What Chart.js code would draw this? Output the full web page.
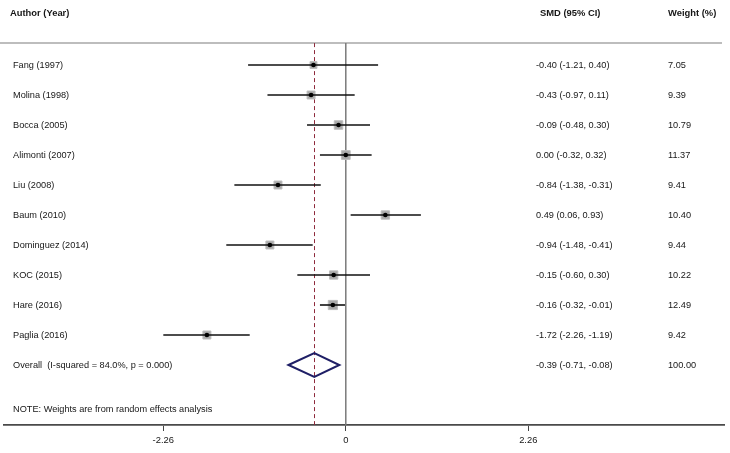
<!DOCTYPE html>
<html>
<head>
<meta charset="utf-8">
<script src="https://cdn.jsdelivr.net/npm/chart.js@4.4.1/dist/chart.umd.min.js"></script>
<style>
  html, body { margin: 0; padding: 0; background: #ffffff; }
  #wrap { width: 730px; height: 453px; }
</style>
</head>
<body>
<div id="wrap"><canvas id="c" width="730" height="453"></canvas></div>
<script>
// ---- data ----
const studies = ['Fang (1997)', 'Molina (1998)', 'Bocca (2005)', 'Alimonti (2007)', 'Liu (2008)',
                 'Baum (2010)', 'Dominguez (2014)', 'KOC (2015)', 'Hare (2016)', 'Paglia (2016)'];
const smd     = [-0.40, -0.43, -0.09, 0.00, -0.84, 0.49, -0.94, -0.15, -0.16, -1.72];
const lower   = [-1.21, -0.97, -0.48, -0.32, -1.38, 0.06, -1.48, -0.60, -0.32, -2.26];
const upper   = [0.40, 0.11, 0.30, 0.32, -0.31, 0.93, -0.41, 0.30, -0.01, -1.19];
const weights = [7.05, 9.39, 10.79, 11.37, 9.41, 10.40, 9.44, 10.22, 12.49, 9.42];
const overallLabel = 'Overall  (I-squared = 84.0%, p = 0.000)';
const overallSmd = -0.39;
const overallLower = -0.71;
const overallUpper = -0.08;
const overallWeight = 100.00;
const tickValues = [-2.26, 0, 2.26];
const tickLabels = ['-2.26', '0', '2.26'];
const headers = ['Author (Year)', 'SMD (95% CI)', 'Weight (%)'];
const noteText = 'NOTE: Weights are from random effects analysis';

// ---- layout (row units on the y scale) ----
const rowOf = i => i + 1;
const overallRow = studies.length + 1;
const headerRow = -0.73;
const headerLineRow = 0.27;
const noteRow = 12.47;
const FONT = "'Liberation Sans', Arial, sans-serif";

const fmt = v => v.toFixed(2);
const ciText = (e, l, u) => `${fmt(e)} (${fmt(l)}, ${fmt(u)})`;

const forestPlugin = {
  id: 'forest',
  beforeDatasetsDraw(chart) {
    const { ctx } = chart;
    const xs = chart.scales.x, ys = chart.scales.y;
    const top = ys.getPixelForValue(headerLineRow);
    const bottom = chart.chartArea.bottom;
    ctx.save();
    // header rule
    ctx.strokeStyle = '#bdbdbd';
    ctx.lineWidth = 2;
    ctx.beginPath();
    ctx.moveTo(0, top);
    ctx.lineTo(722, top);
    ctx.stroke();
    // null line
    const x0 = xs.getPixelForValue(0);
    ctx.strokeStyle = '#7a7a7a';
    ctx.lineWidth = 1.5;
    ctx.beginPath();
    ctx.moveTo(x0, top);
    ctx.lineTo(x0, bottom);
    ctx.stroke();
    // overall estimate dashed line
    const xo = Math.round(xs.getPixelForValue(overallSmd)) + 0.5;
    ctx.strokeStyle = '#8e2a3c';
    ctx.lineWidth = 1;
    ctx.setLineDash([4, 3]);
    ctx.beginPath();
    ctx.moveTo(xo, top);
    ctx.lineTo(xo, bottom);
    ctx.stroke();
    ctx.restore();
  },
  afterDatasetDraw(chart, args) {
    if (args.index !== 1) return;
    const { ctx } = chart;
    const xs = chart.scales.x, ys = chart.scales.y;
    ctx.save();
    ctx.strokeStyle = '#111111';
    ctx.lineWidth = 1.6;
    for (let i = 0; i < studies.length; i++) {
      const y = ys.getPixelForValue(rowOf(i));
      ctx.beginPath();
      ctx.moveTo(xs.getPixelForValue(lower[i]), y);
      ctx.lineTo(xs.getPixelForValue(upper[i]), y);
      ctx.stroke();
    }
    ctx.restore();
  },
  afterDatasetsDraw(chart) {
    const { ctx } = chart;
    const xs = chart.scales.x, ys = chart.scales.y;
    const y = ys.getPixelForValue(overallRow);
    const h = 11.8;
    ctx.save();
    ctx.strokeStyle = '#1f1f66';
    ctx.lineWidth = 2;
    ctx.lineJoin = 'miter';
    ctx.beginPath();
    ctx.moveTo(xs.getPixelForValue(overallLower), y);
    ctx.lineTo(xs.getPixelForValue(overallSmd), y - h);
    ctx.lineTo(xs.getPixelForValue(overallUpper), y);
    ctx.lineTo(xs.getPixelForValue(overallSmd), y + h);
    ctx.closePath();
    ctx.stroke();
    ctx.restore();
  },
  afterDraw(chart) {
    const { ctx } = chart;
    const ys = chart.scales.y;
    ctx.save();
    ctx.textBaseline = 'middle';
    ctx.textAlign = 'left';
    ctx.fillStyle = '#161616';
    // headers
    ctx.font = `bold 9.4px ${FONT}`;
    const hy = ys.getPixelForValue(headerRow);
    ctx.fillText(headers[0], 10, hy);
    ctx.fillText(headers[1], 540, hy);
    ctx.fillText(headers[2], 668, hy);
    // rows
    ctx.font = `9.2px ${FONT}`;
    for (let i = 0; i < studies.length; i++) {
      const y = ys.getPixelForValue(rowOf(i));
      ctx.fillText(studies[i], 13, y);
      ctx.fillText(ciText(smd[i], lower[i], upper[i]), 536, y);
      ctx.fillText(fmt(weights[i]), 668, y);
    }
    const oy = ys.getPixelForValue(overallRow);
    ctx.fillText(overallLabel, 13, oy);
    ctx.fillText(ciText(overallSmd, overallLower, overallUpper), 536, oy);
    ctx.fillText(fmt(overallWeight), 668, oy);
    ctx.fillText(noteText, 13, ys.getPixelForValue(noteRow));
    ctx.restore();
  }
};

const boxSide = w => 2.6 * Math.sqrt(w);

new Chart(document.getElementById('c'), {
  type: 'scatter',
  data: {
    datasets: [
      {
        label: 'point',
        data: smd.map((v, i) => ({ x: v, y: rowOf(i) })),
        pointStyle: 'circle',
        pointRadius: 2.3,
        backgroundColor: '#000000',
        borderColor: '#000000',
        borderWidth: 0
      },
      {
        label: 'weight box',
        data: smd.map((v, i) => ({ x: v, y: rowOf(i) })),
        pointStyle: 'rect',
        pointRadius: weights.map(w => boxSide(w) / Math.SQRT2),
        backgroundColor: '#a9a9a9',
        borderColor: '#bebebe',
        borderWidth: 1
      }
    ]
  },
  options: {
    responsive: false,
    animation: false,
    events: [],
    layout: { autoPadding: false, padding: { left: 4, right: 6, top: 0, bottom: 0 } },
    plugins: { legend: { display: false }, tooltip: { enabled: false } },
    scales: {
      x: {
        type: 'linear',
        min: -4.233,
        max: 4.684,
        afterBuildTicks: s => { s.ticks = tickValues.map(v => ({ value: v })); },
        afterFit: s => { s.height = 28; },
        ticks: {
          callback: (v) => tickLabels[tickValues.indexOf(v)] ?? '',
          font: { family: FONT, size: 9.4 },
          color: '#161616',
          padding: 4,
          maxRotation: 0,
          autoSkip: false
        },
        grid: { drawOnChartArea: false, drawTicks: true, tickLength: 6, color: '#444444', lineWidth: 1 },
        border: { display: true, color: '#4a4a4a', width: 1.8 }
      },
      y: {
        type: 'linear',
        display: false,
        reverse: true,
        min: -7 / 6,
        max: 13
      }
    }
  },
  plugins: [forestPlugin]
});
</script>
</body>
</html>
